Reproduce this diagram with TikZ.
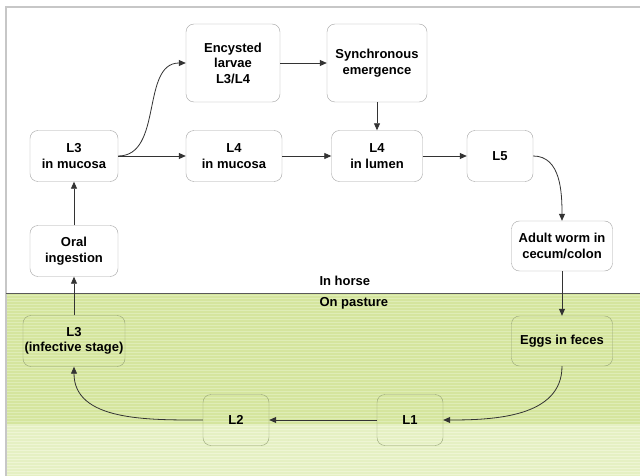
\documentclass[tikz,border=0pt]{standalone}
\usepackage{fontspec}
\setmainfont{Liberation Sans}
\usetikzlibrary{arrows.meta}
\definecolor{grass}{RGB}{213,229,158}
\definecolor{grasslight}{RGB}{223,237,182}
\definecolor{grasspale}{RGB}{229,240,195}
\definecolor{grasspalelight}{RGB}{238,245,212}
\definecolor{boxline}{RGB}{165,165,165}
\definecolor{boxlinegreen}{RGB}{150,163,118}

\begin{document}
\begin{tikzpicture}[x=1pt,y=1pt,
  stage/.style={draw=boxline,fill=white,rounded corners=8pt,align=center,inner sep=0pt,
    font=\fontsize{13}{15.5}\selectfont\bfseries},
  field/.style={stage,draw=boxlinegreen,fill=none},
  zone/.style={anchor=west,font=\fontsize{13}{15.5}\selectfont\bfseries},
  link/.style={draw=black!80,line width=0.8pt,-{Triangle[length=7pt,width=6pt]}}]
\useasboundingbox (0,0) rectangle (640,-476);
% background: horse above, pasture below
\fill[white] (0,0) rectangle (640,-476);
\fill[grass] (6,-293) rectangle (640,-424);
\foreach \y in {295,298,...,423}
  \draw[grasslight,line width=1pt] (6,-\y) -- (640,-\y);
\fill[grasspale] (6,-424) rectangle (640,-476);
\foreach \y in {426,429,...,476}
  \draw[grasspalelight,line width=1pt] (6,-\y) -- (640,-\y);
\draw[black!22,line width=1.5pt] (6,-476) -- (6,-7) -- (640,-7);
\draw[black!65,line width=0.8pt] (6,-293) -- (640,-293);
\node[zone] (horse) at (316,-281) {In horse};
\node[zone] (pasture) at (316,-303) {On pasture};

% stages in the horse
\node[stage,minimum width=94,minimum height=78] (enc) at (233,-63) {Encysted\\larvae\\L3/L4};
\node[stage,minimum width=100,minimum height=78] (syn) at (377,-63) {Synchronous\\emergence};
\node[stage,minimum width=88,minimum height=51] (l3m) at (74,-156) {L3\\in mucosa};
\node[stage,minimum width=96,minimum height=51] (l4m) at (234,-156) {L4\\in mucosa};
\node[stage,minimum width=91,minimum height=51] (l4l) at (377,-156) {L4\\in lumen};
\node[stage,minimum width=66,minimum height=51] (l5) at (500,-156) {L5};
\node[stage,minimum width=88,minimum height=51] (oral) at (74,-251) {Oral\\ingestion};
\node[stage,minimum width=101,minimum height=50] (adult) at (562,-246) {Adult worm in\\cecum/colon};

% stages on pasture
\node[field,minimum width=101,minimum height=50] (eggs) at (562,-341) {Eggs in feces};
\node[field,minimum width=102,minimum height=51] (l3i) at (74,-341) {L3\\(infective stage)};
\node[field,minimum width=66,minimum height=51] (l2) at (236,-420) {L2};
\node[field,minimum width=66,minimum height=51] (l1) at (410,-420) {L1};

% cycle
\draw[link] (l3m.east) to[out=0,in=180] (enc.west);
\draw[link] (enc) -- (syn);
\draw[link] (syn) -- (l4l);
\draw[link] (l3m) -- (l4m);
\draw[link] (l4m) -- (l4l);
\draw[link] (l4l) -- (l5);
\draw[link] (l5.east) to[out=0,in=90] (adult.north);
\draw[link] (adult) -- (eggs);
\draw[link] (eggs.south) to[out=-90,in=0] (l1.east);
\draw[link] (l1) -- (l2);
\draw[link] (l2.west) to[out=180,in=-90] (l3i.south);
\draw[link] (l3i) -- (oral);
\draw[link] (oral) -- (l3m);
\end{tikzpicture}
\end{document}
